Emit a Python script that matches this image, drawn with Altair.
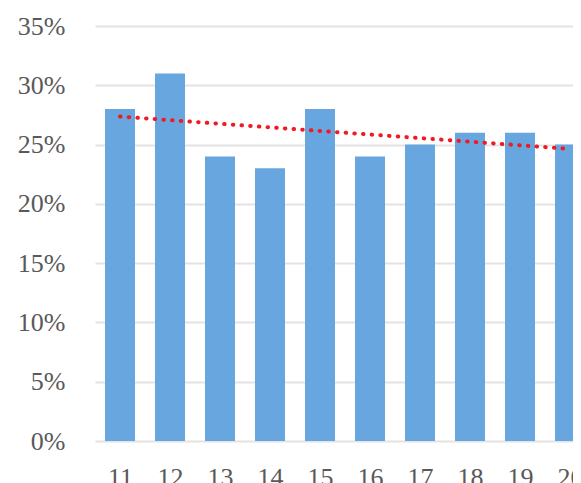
import altair as alt
import pandas as pd

categories = [11, 12, 13, 14, 15, 16, 17, 18, 19, 20]
values = [0.28, 0.31, 0.24, 0.23, 0.28, 0.24, 0.25, 0.26, 0.26, 0.25]
y_ticks = [0, 0.05, 0.10, 0.15, 0.20, 0.25, 0.30, 0.35]

df = pd.DataFrame({"cat": categories, "value": values})

FONT = "Liberation Serif"

x_enc = alt.X(
    "cat:Q",
    scale=alt.Scale(domain=[10.5, 20.06], nice=False, zero=False, padding=0),
    axis=alt.Axis(
        title=None, values=categories, format="d", labelAngle=0, domain=False,
        ticks=False, grid=False, labelFlush=False, labelOverlap=False,
        labelFont=FONT, labelFontSize=26, labelColor="#595959", labelPadding=23,
    ),
)
y_enc = alt.Y(
    "value:Q",
    scale=alt.Scale(domain=[0, 0.35], nice=False, padding=0),
    axis=alt.Axis(
        title=None, values=y_ticks, format=".0%", domain=False, ticks=False,
        labelFont=FONT, labelFontSize=26, labelColor="#595959", labelPadding=30,
        gridColor="#e3e3e3", gridWidth=2,
    ),
)

bars = alt.Chart(df).mark_bar(color="#67a6de", size=30, clip=True).encode(x=x_enc, y=y_enc)

trend = (
    alt.Chart(df)
    .transform_regression("cat", "value", method="linear", extent=[11, 20])
    .mark_line(color="#f01a22", strokeWidth=4, strokeDash=[0.5, 8.2], strokeCap="round", clip=True)
    .encode(x="cat:Q", y="value:Q")
)

chart = (
    alt.layer(bars, trend)
    .properties(
        width=478, height=415,
        autosize=alt.AutoSizeParams(type="none"),
        padding={"left": 87, "top": 18, "right": 0, "bottom": 42},
    )
    .configure(background="white")
    .configure_view(stroke=None)
)

chart.save("out.html", embed_options={"renderer": "svg", "actions": False})
